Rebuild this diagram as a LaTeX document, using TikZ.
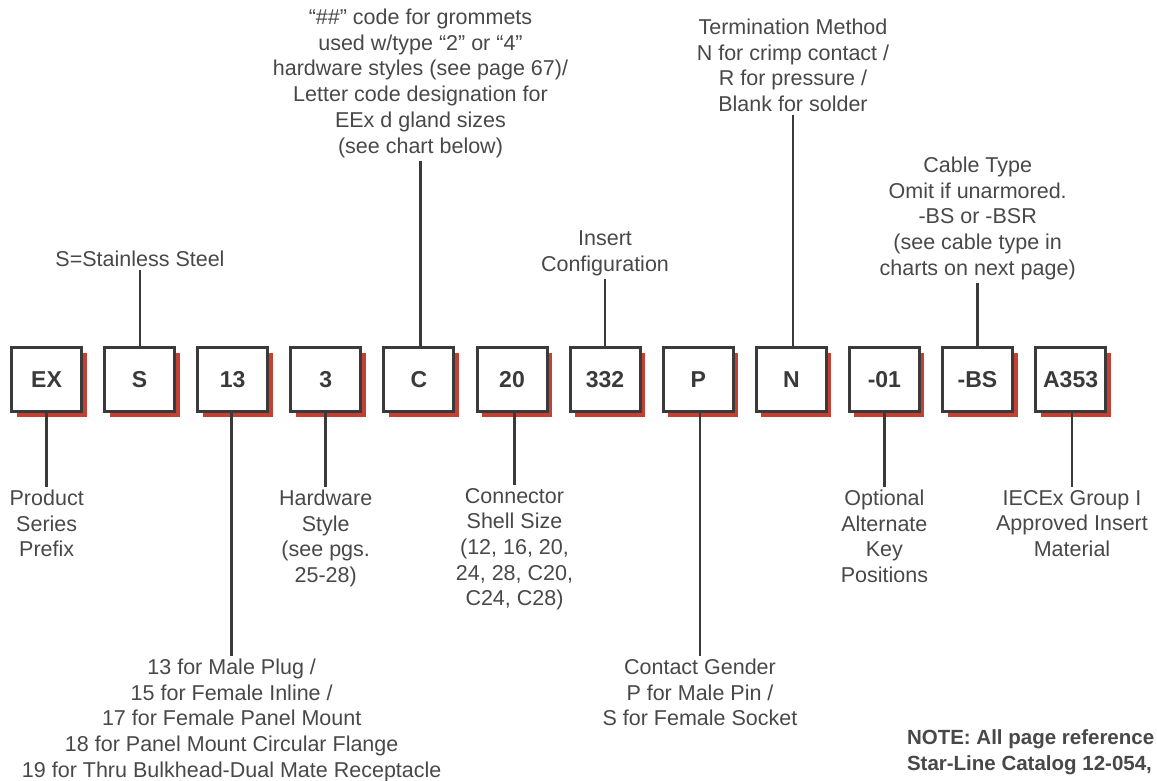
\documentclass[tikz,border=0pt]{standalone}
\usepackage{fontspec}
\setmainfont{Liberation Sans}
\usepackage{tikz}
\usetikzlibrary{positioning,shadows}
\definecolor{partred}{RGB}{196,64,50}
\definecolor{inkgray}{RGB}{58,58,58}
\definecolor{notegray}{RGB}{72,72,72}

\begin{document}
\begin{tikzpicture}[x=1pt, y=-1pt,
  codebox/.style={draw=inkgray, line width=3pt, fill=white, minimum width=70pt, minimum height=64pt, inner sep=0pt,
    text=inkgray, font=\fontsize{23}{27}\selectfont\bfseries,
    drop shadow={shadow xshift=5pt, shadow yshift=-5pt, fill=partred, opacity=1}},
  note/.style={align=center, anchor=north, text=notegray, inner sep=0pt, outer sep=3pt, font=\fontsize{21.5}{25.7}\selectfont},
  lead/.style={draw=inkgray, line width=2.5pt}]
  \useasboundingbox (0,0) rectangle (1157,781);
  % the twelve code boxes
  \foreach \name/\code [count=\i from 0] in {prefix/EX, steel/S, type/13, hardware/3, gland/C, shell/20,
      insert/332, gender/P, term/N, key/-01, cable/-BS, material/A353}
    \node[codebox] (\name) at (46.5+93.1*\i, 379.5) {\code};
  % labels above
  \node[note] (steeltxt) at (140,248) {S=Stainless Steel};
  \node[note] (glandtxt) at (420.5,6) {``\#\#'' code for grommets\\used w/type ``2'' or ``4''\\hardware styles (see page 67)/\\Letter code designation for\\EEx d gland sizes\\(see chart below)};
  \node[note] (inserttxt) at (605,228) {Insert\\Configuration};
  \node[note] (termtxt) at (793,16) {Termination Method\\N for crimp contact /\\R for pressure /\\Blank for solder};
  \node[note] (cabletxt) at (977.7,154) {Cable Type\\Omit if unarmored.\\-BS or -BSR\\(see cable type in\\charts on next page)};
  % labels below
  \node[note] (prefixtxt) at (46.7,487) {Product\\Series\\Prefix};
  \node[note] (typetxt) at (231.7,656) {13 for Male Plug /\\15 for Female Inline /\\17 for Female Panel Mount\\18 for Panel Mount Circular Flange\\19 for Thru Bulkhead-Dual Mate Receptacle};
  \node[note] (hardwaretxt) at (325.7,487) {Hardware\\Style\\(see pgs.\\25-28)};
  \node[note] (shelltxt) at (514.5,485) {Connector\\Shell Size\\(12, 16, 20,\\24, 28, C20,\\C24, C28)};
  \node[note] (gendertxt) at (700,656) {Contact Gender\\P for Male Pin /\\S for Female Socket};
  \node[note] (keytxt) at (884.4,487) {Optional\\Alternate\\Key\\Positions};
  \node[note] (materialtxt) at (1072,487) {IECEx Group I\\Approved Insert\\Material};
  \node[note, anchor=north west, align=left, font=\fontsize{20.5}{26}\selectfont\bfseries] (notetxt) at (904,727)
    {NOTE: All page reference\\Star-Line Catalog 12-054,};
  % leads
  \foreach \name in {steel, gland, insert, term, cable}
    \draw[lead] (\name txt.south) -- (\name txt.south |- \name.north);
  \foreach \name in {prefix, type, hardware, shell, gender, key, material}
    \draw[lead] (\name txt.north) -- (\name txt.north |- \name.south);
\end{tikzpicture}
\end{document}
